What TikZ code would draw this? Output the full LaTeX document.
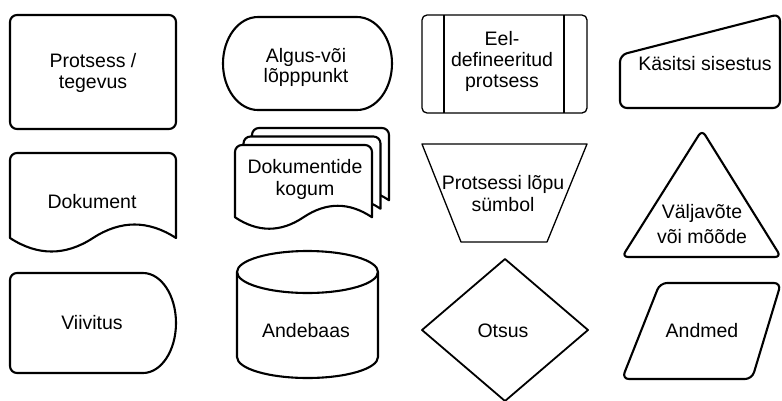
\documentclass[tikz,border=0pt]{standalone}
\usepackage{fontspec}
\setmainfont{Liberation Sans}

% document symbol with rounded top corners and a wavy bottom edge
% #1 style, #2 left x, #3 top (depth below 0), #4 width, #5 height
\newcommand{\flowdoc}[5]{%
  \draw[#1] (#2,{-(#3+0.85*#5)}) -- (#2,{-(#3+7)})
    arc[start angle=180,end angle=90,radius=7]
    -- ({#2+#4-7},-#3) arc[start angle=90,end angle=0,radius=7]
    -- ({#2+#4},{-(#3+0.85*#5)})
    .. controls ({#2+0.8333*#4},{-(#3+0.67*#5)}) and ({#2+0.6667*#4},{-(#3+0.67*#5)}) ..
    ({#2+0.5*#4},{-(#3+0.85*#5)})
    .. controls ({#2+0.3333*#4},{-(#3+1.03*#5)}) and ({#2+0.1667*#4},{-(#3+1.03*#5)}) ..
    (#2,{-(#3+0.85*#5)}) -- cycle;}

\begin{document}
\begin{tikzpicture}[x=1pt,y=1pt,
  outline/.style={draw=black, line width=2.1pt, line join=round, fill=white},
  thinline/.style={draw=black, line width=1.3pt, line join=round, fill=white},
  lbl/.style={font=\fontsize{19.5}{21}\selectfont, align=center, inner sep=0pt, text=black}]
\useasboundingbox (0,0) rectangle (782,-400);

% --- row 1 ---
% process
\draw[outline, rounded corners=7] (10,-15) rectangle (176,-129);
\node[lbl] (proc) at (93,-73) {Protsess /\\tegevus};

% terminator
\draw[outline] (258,-17) -- (357,-17)
  arc[start angle=90,end angle=-90,x radius=35,y radius=46.5]
  -- (258,-110) arc[start angle=270,end angle=90,x radius=35,y radius=46.5] -- cycle;
\node[lbl, font=\fontsize{19.5}{20}\selectfont] (term) at (306,-67) {Algus-või\\lõpppunkt};

% predefined process
\draw[thinline, rounded corners=5] (422,-15) rectangle (587,-113);
\draw[thinline] (444,-15) -- (444,-113);
\draw[thinline] (564,-15) -- (564,-113);
\node[lbl] (pre) at (502,-61) {Eel-\\defineeritud\\protsess};

% manual input
\draw[outline, rounded corners=7] (620,-108) -- (620,-55) -- (780,-14) -- (780,-108) -- cycle;
\node[lbl, anchor=base] (manual) at (705,-70) {Käsitsi sisestus};

% --- row 2 ---
% document
\flowdoc{outline}{10}{153}{166}{100}
\node[lbl, anchor=base] (doc) at (92,-208) {Dokument};

% multiple documents, drawn back to front
\flowdoc{outline}{252}{128}{137}{85}
\flowdoc{outline}{243.5}{136.5}{137}{85}
\flowdoc{outline}{235}{145}{137}{85}
\node[lbl, font=\fontsize{19.5}{22}\selectfont] (docs) at (305,-179) {Dokumentide\\kogum};

% manual operation / end of process
\draw[thinline] (422,-144) -- (587,-144) -- (547,-242) -- (461,-242) -- cycle;
\node[lbl, font=\fontsize{19.5}{22}\selectfont] (endsym) at (503,-194) {Protsessi lõpu\\sümbol};

% extract / measurement
\draw[outline, rounded corners=6] (702,-130) -- (781,-257) -- (622,-257) -- cycle;
\node[lbl] (extract) at (702,-224) {Väljavõte\\[4pt]või mõõde};

% --- row 3 ---
% delay
\draw[outline] (143,-273) arc[start angle=90,end angle=-90,x radius=33,y radius=50]
  -- (17,-373) arc[start angle=270,end angle=180,radius=7]
  -- (10,-280) arc[start angle=180,end angle=90,radius=7] -- cycle;
\node[lbl, anchor=base] (delay) at (92,-329) {Viivitus};

% database
\draw[outline] (237,-272) -- (237,-357)
  arc[start angle=180,end angle=360,x radius=70.5,y radius=21]
  -- (378,-272) arc[start angle=0,end angle=180,x radius=70.5,y radius=21] -- cycle;
\draw[outline, fill=none] (237,-272) arc[start angle=180,end angle=360,x radius=70.5,y radius=21];
\node[lbl, anchor=base] (db) at (306,-337) {Andebaas};

% decision
\draw[outline, line width=1.8pt] (505,-259) -- (588,-330) -- (505,-401) -- (422,-330) -- cycle;
\node[lbl, anchor=base] (decision) at (503,-337) {Otsus};

% data
\draw[outline, rounded corners=7] (660,-283) -- (781,-283) -- (752,-379) -- (622,-379) -- cycle;
\node[lbl, anchor=base] (data) at (702,-337) {Andmed};
\end{tikzpicture}
\end{document}
